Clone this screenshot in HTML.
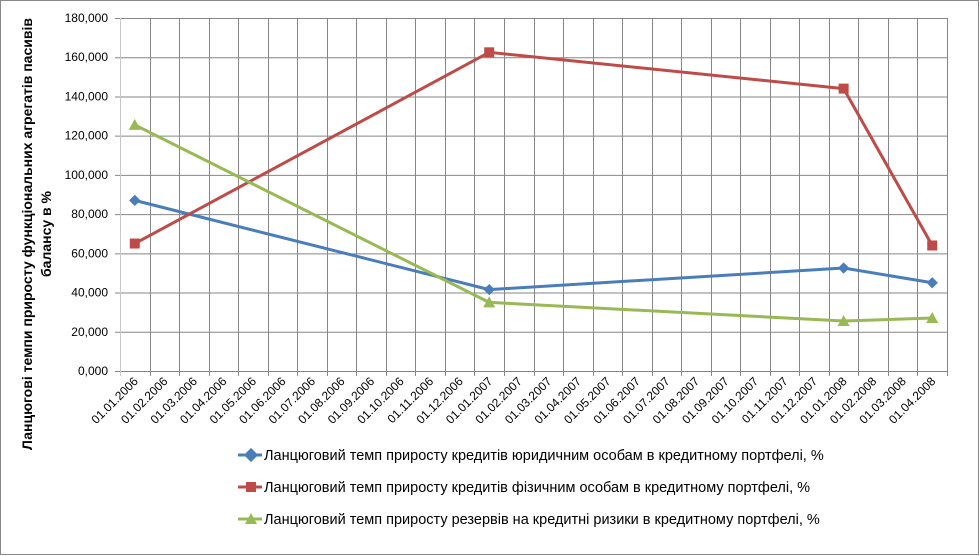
<!DOCTYPE html>
<html><head><meta charset="utf-8"><style>
body{margin:0;background:#fff}
svg{display:block;font-family:"Liberation Sans",sans-serif}
</style></head><body>
<svg width="980" height="556" viewBox="0 0 980 556">
<rect x="0.5" y="0.5" width="978" height="554" fill="#fff" stroke="#888"/>
<g id="grid" stroke="#868686" stroke-width="1"></g>
<g id="ylab" font-size="12" fill="#000" text-anchor="end"></g>
<g id="xlab" font-size="12" fill="#000" text-anchor="end"></g>
<text transform="translate(32,234) rotate(-90)" text-anchor="middle" font-size="14" font-weight="bold">Ланцюгові темпи приросту функціональних агрегатів пасивів</text>
<text transform="translate(51,234) rotate(-90)" text-anchor="middle" font-size="14" font-weight="bold">балансу в %</text>
<g id="series"></g>
<g font-size="14.5" fill="#000">
<line x1="238" y1="455" x2="262" y2="455" stroke="#4a7ebb" stroke-width="3"/>
<rect x="246" y="450" width="10" height="10" fill="#4a7ebb" transform="rotate(45 251 455)"/>
<text x="264" y="460">Ланцюговий темп приросту кредитів юридичним особам в кредитному портфелі, %</text>
<line x1="238" y1="487" x2="262" y2="487" stroke="#be4b48" stroke-width="3"/>
<rect x="246" y="482" width="10" height="10" fill="#be4b48"/>
<text x="264" y="492">Ланцюговий темп приросту кредитів фізичним особам в кредитному портфелі, %</text>
<line x1="238" y1="519" x2="262" y2="519" stroke="#98b954" stroke-width="3"/>
<polygon points="251,513 257,524 245,524" fill="#98b954"/>
<text x="264" y="524">Ланцюговий темп приросту резервів на кредитні ризики в кредитному портфелі, %</text>
</g>
</svg>
<script>
const ns="http://www.w3.org/2000/svg";
function el(p,t,a,txt){const e=document.createElementNS(ns,t);for(const k in a)e.setAttribute(k,a[k]);if(txt)e.textContent=txt;p.appendChild(e);return e;}
const L=120,R=947,T=18,B=371,W=(R-L)/28;
const g=document.getElementById('grid'),yl=document.getElementById('ylab'),xl=document.getElementById('xlab');
for(let i=0;i<=9;i++){const y=B-(B-T)*i/9;el(g,'line',{x1:L-5,x2:R,y1:y+.5,y2:y+.5});
el(yl,'text',{x:108,y:y+4},(i*20).toString()+",000");}
for(let i=0;i<=28;i++){const x=Math.round(L+W*i)+.5;el(g,'line',{x1:x,x2:x,y1:T,y2:B+5,stroke:i==0?'#c8c8c8':'#868686'});}
for(let i=0;i<28;i++){const m=i%12+1,yr=2006+Math.floor(i/12);const lab="01."+(m<10?"0"+m:m)+"."+yr;
const cx=L+W*(i+.5)+4,cy=382;el(xl,'text',{transform:`translate(${cx},${cy}) rotate(-45)`},lab);}
const S=document.getElementById('series');
const Y=v=>B-(B-T)*v/180000,X=i=>L+W*(i+.5);
const idx=[0,12,24,27];
const data=[["#4a7ebb",[87000,41500,52500,45000],"d"],["#be4b48",[65000,162500,144000,64000],"s"],["#98b954",[125500,35000,25500,27000],"t"]];
for(const [c,v,m] of data){el(S,'polyline',{points:v.map((a,k)=>X(idx[k])+","+Y(a)).join(" "),fill:"none",stroke:c,"stroke-width":3,"stroke-linejoin":"round"});
v.forEach((a,k)=>{const x=X(idx[k]),y=Y(a);
if(m=="d")el(S,'rect',{x:x-4,y:y-4,width:8,height:8,fill:c,transform:`rotate(45 ${x} ${y})`});
else if(m=="s")el(S,'rect',{x:x-5,y:y-5,width:10,height:10,fill:c});
else el(S,'polygon',{points:`${x},${y-6} ${x+6},${y+5} ${x-6},${y+5}`,fill:c});});}
</script>
</body></html>
